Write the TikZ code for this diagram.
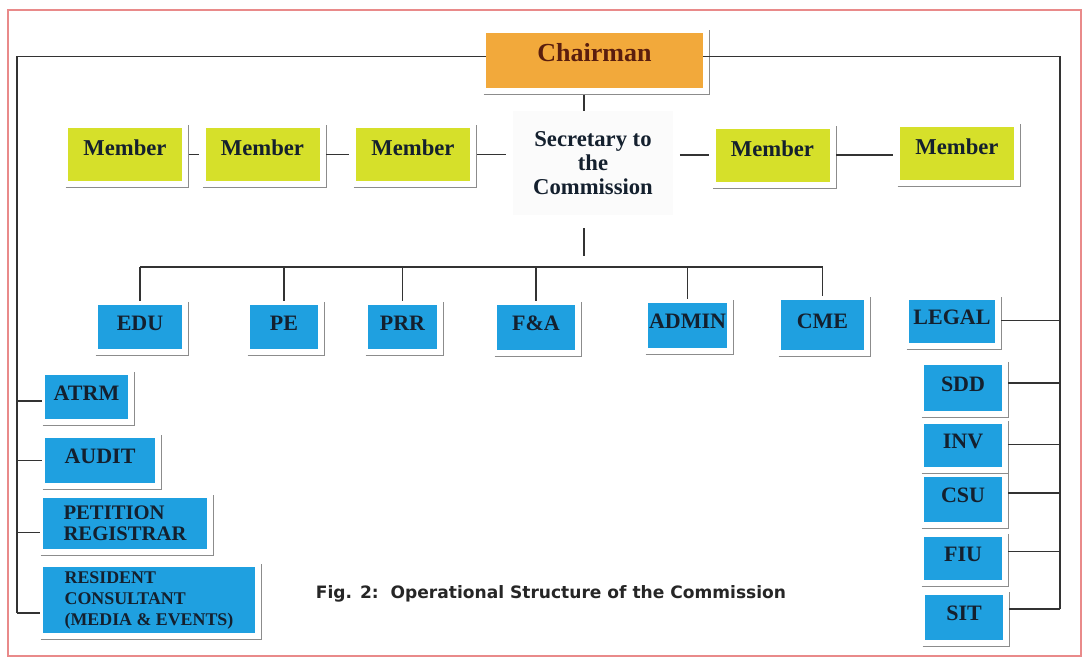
\documentclass[tikz,border=0pt]{standalone}
\usepackage{fontspec}
\setmainfont{Liberation Serif}
\newfontfamily\capfont{DejaVu Sans}
\definecolor{chairorange}{HTML}{F2A93B}
\definecolor{memberyellow}{HTML}{D6E02A}
\definecolor{unitblue}{HTML}{1FA0E0}
\definecolor{frameline}{HTML}{E98A8A}
\definecolor{chairtext}{HTML}{5A1E0E}
\definecolor{boxtext}{HTML}{14202E}
\tikzset{
  chairbox/.style={fill=chairorange, text=chairtext, font=\bfseries\fontsize{19.5}{22}\selectfont,
    minimum width=162.75pt, minimum height=41.25pt, inner sep=0pt, text depth=12pt},
  memberbox/.style={fill=memberyellow, text=boxtext, font=\bfseries\fontsize{17}{20}\selectfont,
    minimum width=85.5pt, minimum height=39.75pt, inner sep=0pt, text depth=10pt},
  unitbox/.style={fill=unitblue, text=boxtext, font=\bfseries\fontsize{16.5}{19}\selectfont,
    minimum height=33pt, inner sep=0pt, text depth=6pt},
  sidebox/.style={unitbox, align=left},
  secnode/.style={fill=gray!3, text=boxtext, font=\bfseries\fontsize{17}{18}\selectfont, align=center,
    minimum width=120pt, minimum height=78pt, inner sep=0pt},
  caption/.style={font=\capfont\bfseries\fontsize{12.8}{15}\selectfont, text=black!85},
  link/.style={draw=black!80, line width=0.8pt},
  matline/.style={draw=black!45, line width=0.7pt},
}
\begin{document}
\begin{tikzpicture}[x=0.75pt, y=-0.75pt]

  % Bounding box of the scheme
  \useasboundingbox (0,0) rectangle (1083,658);
  \draw[frameline, line width=0.8pt] (8,10) rectangle (1081,656);

  %%%%%%%%%%%%%%%%%%%%%%%%%%%%%%%%% Top of the chart %%%%%%%%%%%%%%%%%%%%%%%%%%%%%%%%%%%%
  \draw (594.5,60.5) node[chairbox] (chair) {Chairman} ;
  \draw (593,163) node[secnode] (sec) {Secretary to\\the\\Commission} ;

  % Members
  \draw (125,154.5) node[memberbox] (m1) {Member} ;
  \draw (262.5,154.5) node[memberbox] (m2) {Member} ;
  \draw (413,154.5) node[memberbox] (m3) {Member} ;
  \draw (772.5,155) node[memberbox] (m4) {Member} ;
  \draw (957,153.5) node[memberbox] (m5) {Member} ;

  %%%%%%%%%%%%%%%%%%%%%%%%%%%%%%%%% Units %%%%%%%%%%%%%%%%%%%%%%%%%%%%%%%%%%%%
  % Row under the secretary
  \draw (140,327) node[unitbox, minimum width=63pt] (edu) {EDU} ;
  \draw (284,327) node[unitbox, minimum width=51pt] (pe) {PE} ;
  \draw (402.5,327) node[unitbox, minimum width=51.75pt] (prr) {PRR} ;
  \draw (536,327.5) node[unitbox, minimum width=58.5pt, minimum height=33.75pt] (fa) {F\&A} ;
  \draw (687.5,325.5) node[unitbox, minimum width=59.25pt, minimum height=33.75pt] (admin) {ADMIN} ;
  \draw (822.5,325) node[unitbox, minimum width=62.25pt, minimum height=37.5pt] (cme) {CME} ;

  % Right column
  \draw (952,321.5) node[unitbox, minimum width=64.5pt, minimum height=32.25pt] (legal) {LEGAL} ;
  \draw (963,388) node[unitbox, minimum width=58.5pt, minimum height=34.5pt] (sdd) {SDD} ;
  \draw (963,445.5) node[unitbox, minimum width=58.5pt, minimum height=32.25pt] (inv) {INV} ;
  \draw (963,499.5) node[unitbox, minimum width=58.5pt, minimum height=33.75pt] (csu) {CSU} ;
  \draw (963,558.5) node[unitbox, minimum width=58.5pt, minimum height=32.25pt] (fiu) {FIU} ;
  \draw (964,617.5) node[unitbox, minimum width=58.5pt, minimum height=33.75pt] (sit) {SIT} ;

  % Left column
  \draw (86.5,397) node[sidebox, minimum width=62.25pt] (atrm) {ATRM} ;
  \draw (100,460.5) node[sidebox, minimum width=82.5pt, minimum height=33.75pt] (audit) {AUDIT} ;
  \draw (125,523.5) node[sidebox, minimum width=123pt, minimum height=38.25pt, text depth=,
    font=\bfseries\fontsize{15.5}{16}\selectfont] (petition) {PETITION\\REGISTRAR} ;
  \draw (149,600) node[sidebox, minimum width=159pt, minimum height=49.5pt, text depth=,
    font=\bfseries\fontsize{13.4}{15.75}\selectfont] (resident) {RESIDENT\\CONSULTANT\\(MEDIA \& EVENTS)} ;

  \draw (551,594) node[caption] (cap) {Fig. 2:\ \ Operational Structure of the Commission} ;

  %%%%%%%%%%%%%%%%%%%%%%%%%%%%%%%%% Shadow frames of the boxes %%%%%%%%%%%%%%%%%%%%%%%%%%%%%%%%%%%%
  \foreach \n in {chair,m1,m2,m3,m4,m5,edu,pe,prr,fa,admin,cme,legal,sdd,inv,csu,fiu,sit,atrm,audit,petition,resident} {
    \draw[matline] ([xshift=-1.5pt,yshift=-5pt]\n.south west) -- ([xshift=5pt,yshift=-5pt]\n.south east)
      -- ([xshift=5pt,yshift=2pt]\n.north east) ;
  }

  %%%%%%%%%%%%%%%%%%%%%%%%%%%%%%%%% Points pour les liaisons %%%%%%%%%%%%%%%%%%%%%%%%%%%%%%%%%%%%
  \coordinate (spine) at (584,0) ;
  \coordinate (bar) at (0,267) ;
  \coordinate (lcol) at (17,0) ;
  \coordinate (rcol) at (1060,0) ;

  %%%%%%%%%%%%%%%%%%%%%%%%%%%%%%%%% Liaisons %%%%%%%%%%%%%%%%%%%%%%%%%%%%%%%%%%%%
  % Members in a row
  \draw[link, shorten <=5pt, shorten >=5pt] (m1) -- (m2) ;
  \draw[link, shorten <=5pt, shorten >=5pt] (m2) -- (m3) ;
  \draw[link, shorten <=5pt, shorten >=5pt] (m3.east) -- (m3.east -| sec.west) ;
  \draw[link, shorten <=5pt, shorten >=5pt] (m4.west -| sec.east) -- (m4.west) ;
  \draw[link, shorten <=5pt, shorten >=5pt] (m4.east) -- (m4.east -| m5.west) ;

  % Chairman, secretary and the row of units
  \draw[link, shorten <=5pt] (chair.south -| spine) -- (sec.north -| spine) ;
  \draw[link, shorten <=9.75pt, shorten >=8.25pt] (sec.south -| spine) -- (spine |- bar) ;
  \draw[link] (edu.north |- bar) -- (cme.north |- bar) ;
  \foreach \u in {edu,pe,prr,fa,admin,cme} {
    \draw[link, shorten >=3pt] (\u.north |- bar) -- (\u.north) ;
  }

  % Left column
  \draw[link] ([yshift=3pt]chair.west) -| ([yshift=-9.75pt]lcol |- resident.west) ;
  \foreach \u/\dy in {atrm/-3pt,audit/0pt,petition/-7pt,resident/-9.75pt} {
    \draw[link, shorten >=2pt] ([yshift=\dy]lcol |- \u.west) -- ([yshift=\dy]\u.west) ;
  }

  % Right column
  \draw[link] ([yshift=3pt]chair.east) -| ([yshift=6.4pt]rcol |- sit.east) ;
  \foreach \u/\dy in {legal/1pt,sdd/3.75pt,inv/1pt,csu/4.9pt,fiu/5.6pt,sit/6.4pt} {
    \draw[link, shorten >=4pt] ([yshift=\dy]rcol |- \u.east) -- ([yshift=\dy]\u.east) ;
  }

\end{tikzpicture}
\end{document}
